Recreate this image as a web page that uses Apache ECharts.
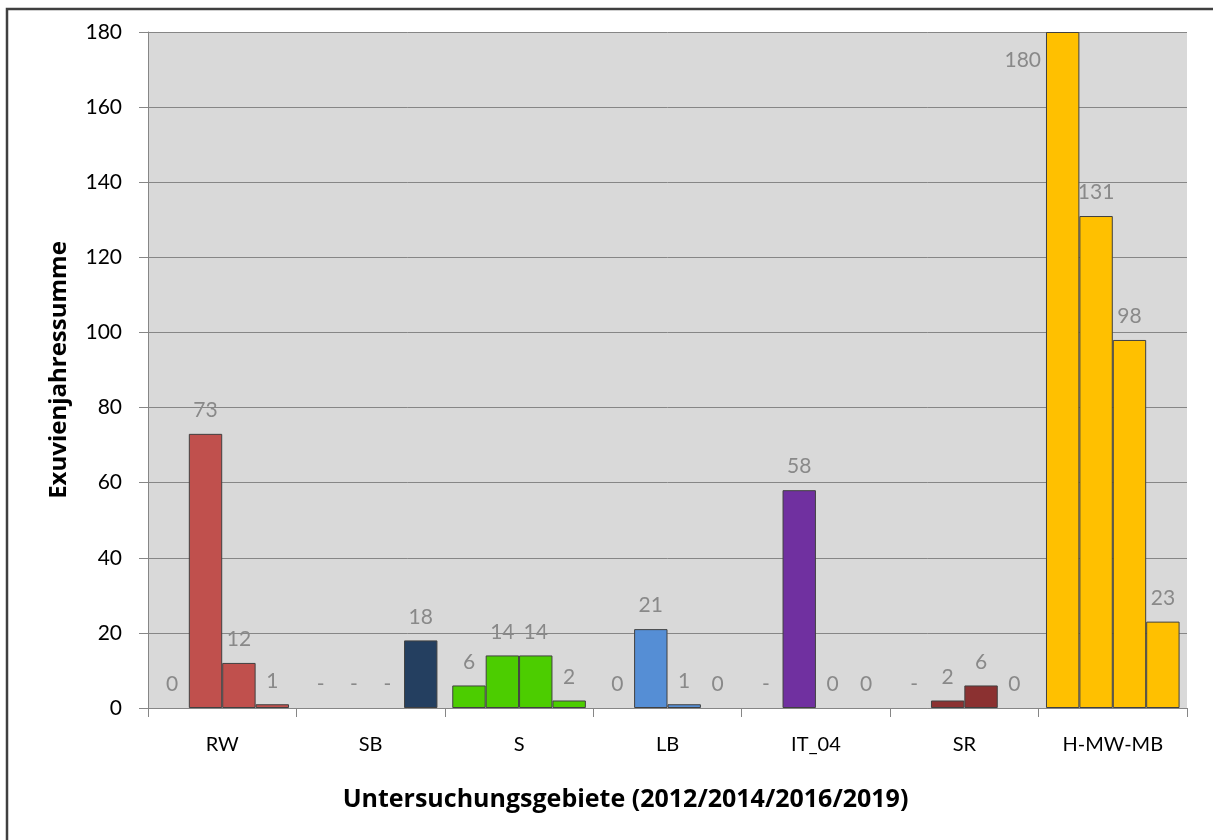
<!DOCTYPE html>
<html>
<head>
<meta charset="utf-8">
<script src="https://cdn.jsdelivr.net/npm/echarts@6/dist/echarts.min.js"></script>
<style>
html,body{margin:0;padding:0;background:#fff;}
#chart{width:1213px;height:840px;}
</style>
</head>
<body>
<div id="chart"></div>
<script>
// ---- data ----
var categories = ['RW', 'SB', 'S', 'LB', 'IT_04', 'SR', 'H-MW-MB'];
var years = ['2012', '2014', '2016', '2019'];
// null = no survey ("-")
var values2012 = [0, null, 6, 0, null, null, 180];
var values2014 = [73, null, 14, 21, 58, 2, 131];
var values2016 = [12, null, 14, 1, 0, 6, 98];
var values2019 = [1, 18, 2, 0, 0, 0, 23];
var categoryColors = ['#C0504D', '#243F60', '#4CCD00', '#558ED5', '#7030A0', '#8B3131', '#FFC000'];
var yTicks = {min: 0, max: 180, interval: 20};

var seriesValues = [values2012, values2014, values2016, values2019];
var FONT = 'Lato, "Liberation Sans", sans-serif';
var TITLE_FONT = '"Open Sans", "Noto Sans", sans-serif';

function buildData(vals) {
  return vals.map(function (v, i) {
    var item = {
      value: v == null ? 0 : v,
      itemStyle: {
        color: categoryColors[i],
        borderColor: '#404040',
        borderWidth: (v == null || v === 0) ? 0 : 1
      }
    };
    if (v === yTicks.max) {
      item.label = {position: [-5, 28], align: 'right', verticalAlign: 'middle'};
    }
    return item;
  });
}

var series = seriesValues.map(function (vals, si) {
  return {
    name: years[si],
    type: 'bar',
    barGap: '0%',
    barCategoryGap: '10%',
    data: buildData(vals),
    label: {
      show: true,
      position: 'top',
      distance: 13,
      color: '#898989',
      fontSize: 21,
      fontFamily: FONT,
      formatter: function (p) {
        var raw = seriesValues[p.seriesIndex][p.dataIndex];
        return raw == null ? '-' : String(raw);
      }
    }
  };
});

var chart = echarts.init(document.getElementById('chart'));
chart.setOption({
  backgroundColor: '#ffffff',
  animation: false,
  graphic: [{
    type: 'rect',
    shape: {x: 7, y: 9, width: 1230, height: 860},
    style: {fill: 'none', stroke: '#404040', lineWidth: 2.5},
    silent: true
  }],
  grid: {left: 148, right: 26, top: 32, bottom: 132, backgroundColor: '#D9D9D9', show: true, borderWidth: 0},
  xAxis: {
    type: 'category',
    data: categories,
    name: 'Untersuchungsgebiete (2012/2014/2016/2019)',
    nameLocation: 'middle',
    nameGap: 79,
    nameTextStyle: {fontSize: 25, fontWeight: 'bold', color: '#000', fontFamily: TITLE_FONT, padding: [0, 84, 0, 0]},
    axisLine: {show: true, lineStyle: {color: '#868686', width: 1}},
    axisTick: {show: true, interval: 0, length: 9, lineStyle: {color: '#868686'}},
    axisLabel: {color: '#000', fontSize: 20, margin: 27, fontFamily: FONT, interval: 0},
    splitLine: {show: false}
  },
  yAxis: {
    type: 'value',
    min: yTicks.min,
    max: yTicks.max,
    interval: yTicks.interval,
    name: 'Exuvienjahressumme',
    nameLocation: 'middle',
    nameGap: 77,
    nameRotate: 90,
    nameTextStyle: {fontSize: 24, fontWeight: 'bold', color: '#000', fontFamily: TITLE_FONT},
    axisLine: {show: true, lineStyle: {color: '#868686', width: 1}},
    axisTick: {show: true, length: 9, lineStyle: {color: '#868686'}},
    axisLabel: {color: '#000', fontSize: 21, margin: 26, fontFamily: FONT},
    splitLine: {show: true, lineStyle: {color: '#868686', width: 1}}
  },
  series: series
});
</script>
</body>
</html>
